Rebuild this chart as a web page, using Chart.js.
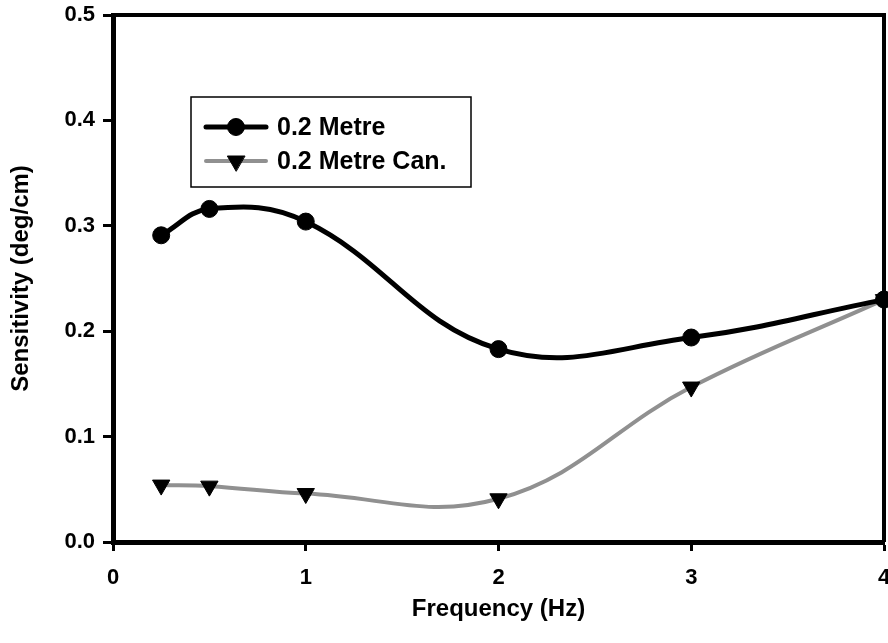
<!DOCTYPE html>
<html>
<head>
<meta charset="utf-8">
<script src="https://cdn.jsdelivr.net/npm/chart.js@4.4.0/dist/chart.umd.min.js"></script>
<style>
  html, body { margin: 0; padding: 0; background: #fff; }
  #wrap { width: 888px; height: 643px; }
</style>
</head>
<body>
<div id="wrap"><canvas id="c" width="888" height="643"></canvas></div>
<script>
// valores
const freqHz = [0.25, 0.5, 1, 2, 3, 4];
const metre02 = [0.291, 0.316, 0.304, 0.183, 0.194, 0.230];
const metre02Can = [0.054, 0.053, 0.046, 0.041, 0.147, 0.230];
const xTicks = [0, 1, 2, 3, 4];
const yTicks = [0.0, 0.1, 0.2, 0.3, 0.4, 0.5];

const FONT = '"Liberation Sans", Arial, Helvetica, sans-serif';

function pts(xs, ys){ return xs.map(function(x, i){ return { x: x, y: ys[i] }; }); }

// moldura + legenda dentro da área do gráfico
const framePlugin = {
  id: 'frame',
  afterDatasetsDraw(chart){
    const ctx = chart.ctx, a = chart.chartArea;
    ctx.save();
    ctx.strokeStyle = '#000';
    ctx.lineWidth = 4;
    ctx.beginPath();
    ctx.moveTo(a.left, a.top); ctx.lineTo(a.right + 2, a.top);
    ctx.moveTo(a.right, a.top); ctx.lineTo(a.right, a.bottom);
    ctx.stroke();
    ctx.restore();
  },
  afterDraw(chart){
    const ctx = chart.ctx;
    const box = { x: 191, y: 97, w: 280, h: 90 };
    const rows = [127, 161];
    ctx.save();
    ctx.fillStyle = '#fff';
    ctx.fillRect(box.x, box.y, box.w, box.h);
    ctx.strokeStyle = '#000';
    ctx.lineWidth = 1.5;
    ctx.strokeRect(box.x, box.y, box.w, box.h);
    chart.data.datasets.forEach(function(ds, i){
      const y = rows[i];
      ctx.strokeStyle = ds.borderColor;
      ctx.lineWidth = ds.borderWidth;
      ctx.lineCap = 'round';
      ctx.beginPath(); ctx.moveTo(206, y); ctx.lineTo(266, y); ctx.stroke();
      ctx.fillStyle = ds.pointBackgroundColor;
      ctx.strokeStyle = ds.pointBorderColor;
      ctx.lineWidth = 1;
      Chart.helpers.drawPoint(ctx, {
        pointStyle: ds.pointStyle, rotation: ds.pointRotation || 0,
        radius: ds.pointRadius, borderWidth: 1
      }, 236, y);
      ctx.fillStyle = '#000';
      ctx.font = 'bold 25px ' + FONT;
      ctx.textBaseline = 'middle';
      ctx.textAlign = 'left';
      ctx.fillText(ds.label, 277, y + 1);
    });
    ctx.restore();
  }
};

new Chart(document.getElementById('c').getContext('2d'), {
  type: 'line',
  data: {
    datasets: [
      {
        label: '0.2 Metre', data: pts(freqHz, metre02),
        borderColor: '#000', backgroundColor: '#000', borderWidth: 5,
        pointStyle: 'circle', pointRadius: 8.5, pointBorderWidth: 1,
        pointBackgroundColor: '#000', pointBorderColor: '#000',
        tension: 0.4, cubicInterpolationMode: 'default'
      },
      {
        label: '0.2 Metre Can.', data: pts(freqHz, metre02Can),
        borderColor: '#909090', backgroundColor: '#000', borderWidth: 4,
        pointStyle: 'triangle', pointRotation: 180, pointRadius: 10, pointBorderWidth: 1,
        pointBackgroundColor: '#000', pointBorderColor: '#000',
        tension: 0.4, cubicInterpolationMode: 'default'
      }
    ]
  },
  options: {
    responsive: false,
    animation: false,
    clip: false,
    layout: { autoPadding: false, padding: { top: 15, right: 4, left: 0, bottom: 0 } },
    plugins: { legend: { display: false }, tooltip: { enabled: false } },
    scales: {
      x: {
        type: 'linear', min: 0, max: 4,
        afterBuildTicks: function(s){ s.ticks = xTicks.map(function(v){ return { value: v }; }); },
        afterFit: function(s){ s.height = 101; s.paddingLeft = 0; s.paddingRight = 0; },
        border: { display: true, color: '#000', width: 5 },
        grid: { drawOnChartArea: false, drawTicks: true, tickLength: 9, tickWidth: 3, tickColor: '#000' },
        ticks: { color: '#000', padding: 14, font: { family: FONT, size: 22, weight: 'bold' } },
        title: { display: true, text: 'Frequency (Hz)', color: '#000', padding: { top: 0, bottom: 19 },
                 font: { family: FONT, size: 24, weight: 'bold' } }
      },
      y: {
        type: 'linear', min: 0, max: 0.5,
        afterBuildTicks: function(s){ s.ticks = yTicks.map(function(v){ return { value: v }; }); },
        afterFit: function(s){ s.width = 113; s.paddingTop = 0; s.paddingBottom = 0; },
        border: { display: true, color: '#000', width: 5 },
        grid: { drawOnChartArea: false, drawTicks: true, tickLength: 10, tickWidth: 3, tickColor: '#000' },
        ticks: { color: '#000', padding: 8, font: { family: FONT, size: 22, weight: 'bold' },
                 callback: function(v){ return Number(v).toFixed(1); } },
        title: { display: true, text: 'Sensitivity (deg/cm)', color: '#000', padding: { top: 7, bottom: 0 },
                 font: { family: FONT, size: 24, weight: 'bold' } }
      }
    }
  },
  plugins: [framePlugin]
});
</script>
</body>
</html>
